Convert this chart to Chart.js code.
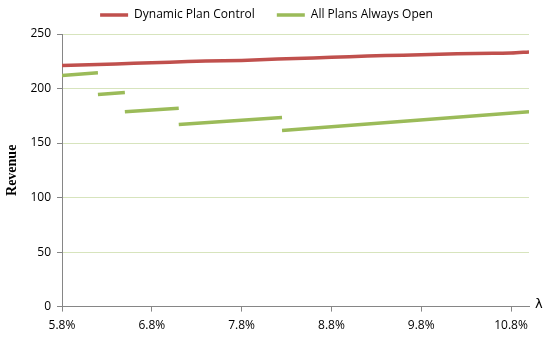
<!DOCTYPE html>
<html>
<head>
<meta charset="utf-8">
<script src="https://cdn.jsdelivr.net/npm/chart.js@4"></script>
<style>
  html, body { margin: 0; padding: 0; background: #fff; }
  #wrap { width: 550px; height: 338px; }
</style>
</head>
<body>
<div id="wrap"><canvas id="chart"></canvas></div>
<script>
const redX = [5.8, 6.2, 6.6, 7.0, 7.4, 7.8, 8.2, 8.6, 9.0, 9.4, 9.8, 10.2, 10.6, 10.8, 11.0];
const redY = [221.0, 222.0, 223.2, 224.2, 225.2, 225.8, 227.0, 228.0, 229.2, 230.2, 231.0, 231.8, 232.4, 232.5, 233.5];

// null = break between the plan segments
const greenX = [5.8, 6.2, 6.2, 6.2, 6.5, 6.5, 6.5, 7.1, 7.1, 7.1, 8.25, 8.25, 8.25, 11.0];
const greenY = [212.0, 214.5, null, 194.6, 196.4, null, 178.6, 182.0, null, 167.0, 173.4, null, 161.5, 178.6];

const xTicks = [5.8, 6.8, 7.8, 8.8, 9.8, 10.8];

const gray = '#868686';
const font = { family: 'Open Sans', size: 12 };

// legend sits close to the top, keep its box height fixed
const legendHeight = {
  id: 'legendHeight',
  beforeInit(chart) {
    const fit = chart.legend.fit;
    chart.legend.fit = function () {
      fit.call(this);
      this.height = 47;
    };
  }
};

const lambdaLabel = {
  id: 'lambdaLabel',
  afterDraw(chart) {
    const { ctx, chartArea } = chart;
    ctx.save();
    ctx.fillStyle = '#000';
    ctx.font = '13px "DejaVu Sans"';
    ctx.textBaseline = 'middle';
    ctx.fillText('λ', chartArea.right + 6, chartArea.bottom - 2);
    ctx.restore();
  }
};

new Chart(document.getElementById('chart'), {
  type: 'line',
  data: {
    datasets: [{
      label: 'Dynamic Plan Control',
      data: redX.map((x, i) => ({ x: x, y: redY[i] })),
      borderColor: '#c0504d',
      backgroundColor: '#c0504d',
      borderWidth: 3.5,
      pointRadius: 0,
      tension: 0.3,
      fill: false
    }, {
      label: 'All Plans Always Open',
      data: greenX.map((x, i) => ({ x: x, y: greenY[i] })),
      borderColor: '#9bbb59',
      backgroundColor: '#9bbb59',
      borderWidth: 3.5,
      pointRadius: 0,
      spanGaps: false,
      fill: false
    }]
  },
  options: {
    responsive: true,
    maintainAspectRatio: false,
    animation: false,
    layout: { padding: { left: 4, right: 21, top: -13, bottom: -2 } },
    scales: {
      x: {
        type: 'linear',
        min: 5.8,
        max: 11.0,
        afterBuildTicks: (axis) => { axis.ticks = xTicks.map(v => ({ value: v })); },
        grid: { drawOnChartArea: false, color: gray, tickLength: 5 },
        border: { color: gray },
        ticks: {
          color: '#000',
          font: font,
          maxRotation: 0,
          padding: 7,
          callback: (v) => v.toFixed(1) + '%'
        }
      },
      y: {
        min: 0,
        max: 250,
        afterFit: (axis) => { axis.width = 58; },
        grid: { color: '#d7e4bd', tickColor: gray, tickLength: 5 },
        border: { color: gray },
        ticks: { stepSize: 50, color: '#000', font: font, padding: 6 },
        title: {
          display: true,
          text: 'Revenue',
          color: '#000',
          font: { family: 'Liberation Serif', size: 14, weight: 'bold' },
          padding: 0
        }
      }
    },
    plugins: {
      legend: {
        position: 'top',
        labels: {
          boxWidth: 28,
          boxHeight: 0,
          padding: 22,
          color: '#000',
          font: font
        }
      },
      tooltip: { enabled: false }
    }
  },
  plugins: [legendHeight, lambdaLabel]
});
</script>
</body>
</html>
